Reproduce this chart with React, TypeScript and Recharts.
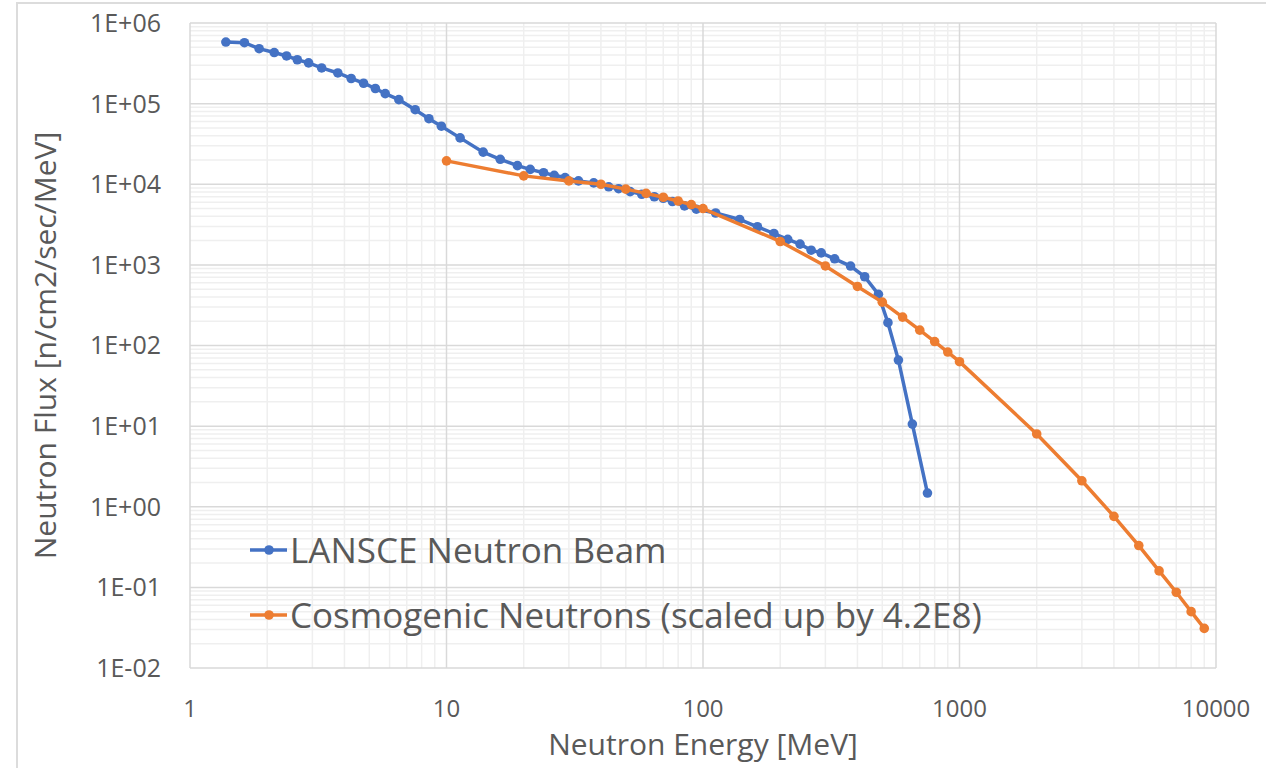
import React from 'react';
import {
  ScatterChart,
  Scatter,
  XAxis,
  YAxis,
  ReferenceLine,
  Legend,
  Label
} from 'recharts';

// LANSCE beam spectrum
const lansceEnergy = [
  1.38, 1.63, 1.86, 2.13, 2.38, 2.62, 2.9, 3.26, 3.77, 4.25, 4.75, 5.28, 5.77, 6.52, 7.55, 8.54, 9.55,
  11.3, 13.9, 16.2, 18.9, 21.2, 23.9, 26.3, 29.0, 32.7, 37.5, 42.9, 46.9, 52.0, 57.7, 64.6, 70.0, 76.0,
  84.7, 94.2, 112, 139, 163, 189, 214, 239, 264, 289, 326, 376, 427, 483, 526, 578, 655, 750
];
const lansceFlux = [
  5.8e5, 5.7e5, 4.8e5, 4.3e5, 3.9e5, 3.5e5, 3.2e5, 2.77e5, 2.4e5, 2.05e5, 1.79e5, 1.54e5, 1.33e5, 1.12e5,
  8.4e4, 6.5e4, 5.25e4, 3.76e4, 2.5e4, 2.04e4, 1.7e4, 1.53e4, 1.39e4, 1.29e4, 1.21e4, 1.1e4, 1.04e4,
  9.3e3, 8.8e3, 8.1e3, 7.5e3, 7.0e3, 6.7e3, 6.1e3, 5.4e3, 4.9e3, 4.4e3, 3.66e3, 2.97e3, 2.45e3, 2.07e3,
  1.81e3, 1.52e3, 1.41e3, 1.19e3, 967, 712, 431, 192, 66, 10.6, 1.48
];

// cosmogenic spectrum (scaled up by 4.2E8)
const cosmicEnergy = [
  10, 20, 30, 40, 50, 60, 70, 80, 90, 100, 200, 300, 400, 500, 600, 700, 800, 900, 1000,
  2000, 3000, 4000, 5000, 6000, 7000, 8000, 9000
];
const cosmicFlux = [
  1.95e4, 1.27e4, 1.1e4, 1.0e4, 8.7e3, 7.7e3, 6.9e3, 6.2e3, 5.6e3, 5.0e3, 1.95e3, 970, 540, 345, 225,
  155, 112, 83, 63, 8.0, 2.1, 0.76, 0.33, 0.16, 0.087, 0.05, 0.031
];

const seriesNames = ['LANSCE Neutron Beam', 'Cosmogenic Neutrons (scaled up by 4.2E8)'];
const xTicks = [1, 10, 100, 1000, 10000];
const yTicks = [1e-2, 1e-1, 1e0, 1e1, 1e2, 1e3, 1e4, 1e5, 1e6];

const lansceData = lansceEnergy.map((x, i) => ({ x, y: lansceFlux[i] }));
const cosmicData = cosmicEnergy.map((x, i) => ({ x, y: cosmicFlux[i] }));

// minor grid values 2..9 within each decade
const minorOf = (majors: number[]) =>
  majors.slice(0, -1).flatMap((m) => [2, 3, 4, 5, 6, 7, 8, 9].map((k) => m * k));
const xMinor = minorOf(xTicks);
const yMinor = minorOf(yTicks);

const BLUE = '#4472C4';
const ORANGE = '#ED7D31';
const TEXT = '#595959';
const FONT = '"Open Sans", sans-serif';

const fmtExp = (v: number) => {
  const e = Math.round(Math.log10(v));
  const s = e < 0 ? '-' : '+';
  return `1E${s}${String(Math.abs(e)).padStart(2, '0')}`;
};

const dot = (color: string) => (props: any) => (
  <circle cx={props.cx} cy={props.cy} r={4.8} fill={color} />
);

const renderLegend = (props: any) => {
  const items = [...(props.payload || [])].sort(
    (a: any, b: any) => seriesNames.indexOf(a.value) - seriesNames.indexOf(b.value)
  );
  return (
    <div style={{ fontFamily: FONT }}>
      {items.map((entry: any) => (
        <div key={entry.value} style={{ display: 'flex', alignItems: 'center', height: 65 }}>
          <svg width={42} height={20}>
            <line x1={2} y1={10} x2={39} y2={10} stroke={entry.color} strokeWidth={3.5} />
            <circle cx={21} cy={10} r={4.8} fill={entry.color} />
          </svg>
          <span style={{ fontSize: 35, color: TEXT, whiteSpace: 'nowrap' }}>{entry.value}</span>
        </div>
      ))}
    </div>
  );
};

const App: React.FC = () => {
  return (
    <div
      style={{
        position: 'fixed',
        left: 0,
        top: 0,
        width: 1266,
        height: 768,
        overflow: 'hidden',
        background: '#fff',
        fontFamily: FONT
      }}
    >
      <div
        style={{
          position: 'absolute',
          left: 16,
          top: 2,
          width: 1400,
          height: 900,
          border: '2px solid #dcdcdc'
        }}
      />
      <div style={{ position: 'absolute', left: 0, top: 0 }}>
        <ScatterChart width={1266} height={768} margin={{ top: 23, right: 50, bottom: 0, left: 0 }}>
          {/* minor gridlines */}
          {xMinor.map((v) => (
            <ReferenceLine key={`xm${v}`} x={v} stroke="#efefef" strokeWidth={1.5} ifOverflow="hidden" />
          ))}
          {yMinor.map((v) => (
            <ReferenceLine key={`ym${v}`} y={v} stroke="#efefef" strokeWidth={1.5} ifOverflow="hidden" />
          ))}
          {/* major gridlines */}
          {xTicks.map((v) => (
            <ReferenceLine key={`xM${v}`} x={v} stroke="#d9d9d9" strokeWidth={1.5} />
          ))}
          {yTicks.map((v) => (
            <ReferenceLine key={`yM${v}`} y={v} stroke="#d9d9d9" strokeWidth={1.5} />
          ))}
          <XAxis
            type="number"
            dataKey="x"
            scale="log"
            domain={[1, 10000]}
            ticks={xTicks}
            allowDataOverflow
            height={100}
            axisLine={false}
            tickLine={false}
            tickSize={0}
            tickMargin={32}
            tick={{ fill: TEXT, fontSize: 24, fontFamily: FONT }}
          >
            <Label
              content={(p: any) => {
                const vb = p.viewBox || { x: 190, y: 668, width: 1025 };
                return (
                  <text
                    x={vb.x + vb.width / 2}
                    y={vb.y + 75}
                    textAnchor="middle"
                    dominantBaseline="central"
                    fill={TEXT}
                    fontSize={30}
                    fontFamily={FONT}
                  >
                    Neutron Energy [MeV]
                  </text>
                );
              }}
            />
          </XAxis>
          <YAxis
            type="number"
            dataKey="y"
            scale="log"
            domain={[0.01, 1e6]}
            ticks={yTicks}
            allowDataOverflow
            width={190}
            axisLine={false}
            tickLine={false}
            tickSize={0}
            tickMargin={29}
            tickFormatter={fmtExp}
            tick={{ fill: TEXT, fontSize: 25, fontFamily: FONT }}
          >
            <Label
              content={(p: any) => {
                const vb = p.viewBox || { x: 0, y: 23, height: 645 };
                const cx = vb.x + 44;
                const cy = vb.y + vb.height / 2;
                return (
                  <text
                    x={cx}
                    y={cy}
                    transform={`rotate(-90, ${cx}, ${cy})`}
                    textAnchor="middle"
                    dominantBaseline="central"
                    fill={TEXT}
                    fontSize={30}
                    fontFamily={FONT}
                  >
                    Neutron Flux [n/cm2/sec/MeV]
                  </text>
                );
              }}
            />
          </YAxis>
          <Legend
            layout="vertical"
            align="center"
            verticalAlign="middle"
            content={renderLegend}
            wrapperStyle={{ left: 248, top: 517, width: 'auto' }}
          />
          <Scatter
            name={seriesNames[0]}
            data={lansceData}
            fill={BLUE}
            line={{ stroke: BLUE, strokeWidth: 3.5 }}
            shape={dot(BLUE)}
            isAnimationActive={false}
          />
          <Scatter
            name={seriesNames[1]}
            data={cosmicData}
            fill={ORANGE}
            line={{ stroke: ORANGE, strokeWidth: 3.5 }}
            shape={dot(ORANGE)}
            isAnimationActive={false}
          />
        </ScatterChart>
      </div>
    </div>
  );
};

export default App;
